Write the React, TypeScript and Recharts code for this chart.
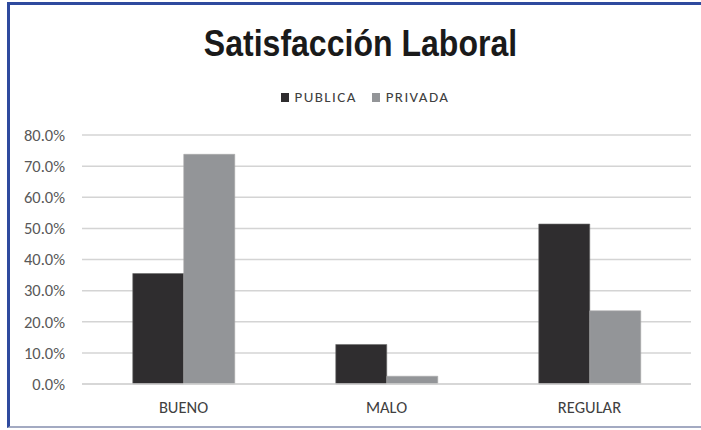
import * as React from "react"
import {
  Bar,
  BarChart,
  CartesianGrid,
  Legend,
  ReferenceLine,
  XAxis,
  YAxis,
} from "recharts"

const categories = ["BUENO", "MALO", "REGULAR"]
const seriesNames = ["PUBLICA", "PRIVADA"]
const publica = [0.355, 0.127, 0.514]
const privada = [0.738, 0.025, 0.235]
const yTicks = [0, 0.1, 0.2, 0.3, 0.4, 0.5, 0.6, 0.7, 0.8]

const data = categories.map((name, i) => ({
  name,
  PUBLICA: publica[i],
  PRIVADA: privada[i],
}))

// minor gridlines every 2%, between the labelled ones
const minorTicks: number[] = []
for (let i = 1; i < 40; i++) {
  if (i % 5 !== 0) minorTicks.push(i / 50)
}

const labelFont = "Carlito, Calibri, 'Open Sans', sans-serif"
const chartMargin = { top: 135, right: 10, bottom: 16, left: 0 }

function LegendContent({ payload }: any) {
  const items = [...(payload || [])].sort(
    (a: any, b: any) => seriesNames.indexOf(a.value) - seriesNames.indexOf(b.value)
  )
  return (
    <div
      style={{
        display: "flex",
        justifyContent: "center",
        paddingLeft: 44,
        fontFamily: labelFont,
        fontSize: 15,
        letterSpacing: 1.4,
        color: "#404040",
        lineHeight: "18px",
      }}
    >
      {items.map((it: any) => (
        <div key={it.value} style={{ display: "flex", alignItems: "center", marginRight: 15 }}>
          <span
            style={{
              display: "inline-block",
              width: 8,
              height: 9,
              background: it.color,
              marginRight: 6,
            }}
          />
          <span>{it.value}</span>
        </div>
      ))}
    </div>
  )
}

export default function App() {
  return (
    <div
      style={{
        position: "absolute",
        left: 0,
        top: 0,
        width: 701,
        height: 430,
        background: "#fff",
        overflow: "hidden",
      }}
    >
      <div
        style={{
          position: "absolute",
          left: 7,
          top: 2,
          width: 710,
          height: 426,
          borderLeft: "3px solid #2E4A9E",
          borderTop: "3px solid #2E4A9E",
          borderBottom: "2px solid #A3AAC2",
          boxSizing: "border-box",
        }}
      />
      <div
        style={{
          position: "absolute",
          left: 10,
          top: 26,
          width: 701,
          textAlign: "center",
          fontFamily: "'Liberation Sans', Arial, sans-serif",
          fontWeight: 700,
          fontSize: 36,
          lineHeight: "36px",
          color: "#1a1a1a",
          transform: "scaleX(0.89)",
          transformOrigin: "350.5px 0",
        }}
      >
        Satisfacción Laboral
      </div>
      {/* minor gridlines, drawn in a chart underneath so the bars cover them */}
      <BarChart
        width={701}
        height={430}
        data={data}
        margin={chartMargin}
        style={{ position: "absolute", left: 0, top: 0 }}
      >
        <XAxis dataKey="name" height={30} axisLine={false} tickLine={false} tick={false} />
        <YAxis
          domain={[0, 0.8]}
          ticks={yTicks}
          width={82}
          axisLine={false}
          tickLine={false}
          tick={false}
        />
        {minorTicks.map((v) => (
          <ReferenceLine key={v} y={v} stroke="#EBEBEB" strokeWidth={1} />
        ))}
      </BarChart>
      <BarChart
        width={701}
        height={430}
        data={data}
        margin={chartMargin}
        barCategoryGap="25%"
        barGap={0}
        style={{ position: "absolute", left: 0, top: 0 }}
      >
        <CartesianGrid vertical={false} stroke="#D4D4D4" strokeWidth={1.5} />
        <XAxis
          dataKey="name"
          axisLine={{ stroke: "#D4D4D4", strokeWidth: 1.5 }}
          tickLine={false}
          tickMargin={11}
          height={30}
          tick={{ fill: "#404040", fontSize: 16.5, fontFamily: labelFont }}
        />
        <YAxis
          domain={[0, 0.8]}
          ticks={yTicks}
          interval={0}
          width={82}
          axisLine={false}
          tickLine={false}
          tickMargin={11}
          tickFormatter={(v: number) => (v * 100).toFixed(1) + "%"}
          tick={{ fill: "#595959", fontSize: 16.5, fontFamily: labelFont }}
        />
        <Legend
          verticalAlign="middle"
          align="center"
          content={<LegendContent />}
          wrapperStyle={{ top: 88, left: 0, width: 701 }}
        />
        <Bar dataKey="PUBLICA" fill="#2F2D2F" stroke="#6b6b6b" strokeWidth={0.6} isAnimationActive={false} />
        <Bar dataKey="PRIVADA" fill="#939598" stroke="#a8a8a8" strokeWidth={0.6} isAnimationActive={false} />
      </BarChart>
    </div>
  )
}
